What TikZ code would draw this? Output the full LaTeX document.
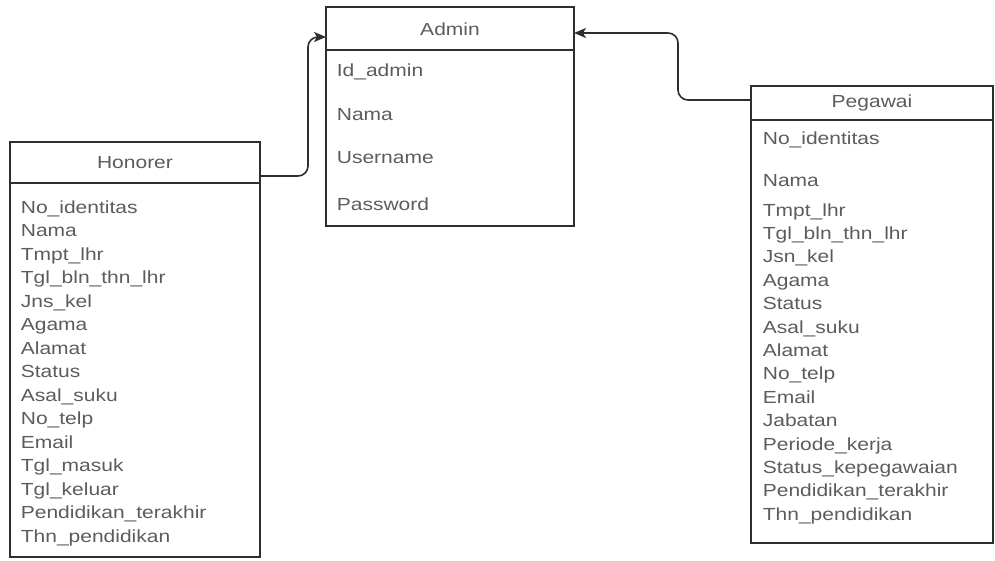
\documentclass[tikz,border=0pt]{standalone}
\usepackage{fontspec}
\setmainfont{Liberation Sans}
\usetikzlibrary{
    arrows.meta,
    calc,
    positioning
}
\definecolor{linegray}{HTML}{2E2E2E}
\definecolor{txtgray}{HTML}{5C5C5C}
\newcommand{\attrfont}{\fontsize{17.5}{20}\selectfont}
\tikzset{
    every picture/.style = {
        > = {Stealth[length = 12pt, width = 10pt, inset = 3pt]},
        line width = 1.4pt
    },
    entity/.style = {
        draw = linegray,
        anchor = north west,
        inner sep = 0pt,
        outer sep = 0pt,
        line width = 1.4pt
    },
    title/.style = {
        text = txtgray,
        font = \attrfont,
        xscale = 1.2,
        inner sep = 0pt
    },
    attr/.style = {
        anchor = west,
        text = txtgray,
        font = \attrfont,
        xscale = 1.2,
        inner sep = 0pt,
        text height = 1.6ex,
        text depth = .4ex
    },
    link/.style = {
        ->,
        draw = linegray,
        line width = 1.6pt,
        rounded corners = 10pt
    }
}

\begin{document}
\begin{tikzpicture}[x = 1pt, y = -1pt]
    \useasboundingbox (0, 0) rectangle (995, 561);

    % entities
    \node[entity, minimum width = 250pt, minimum height = 415pt] (honorer) at (10, 142) {};
    \node[entity, minimum width = 248pt, minimum height = 219pt] (admin) at (326, 7) {};
    \node[entity, minimum width = 242pt, minimum height = 457pt] (pegawai) at (751, 86) {};

    \draw[linegray] (honorer.west |- 0, 183) -- (honorer.east |- 0, 183);
    \draw[linegray] (admin.west |- 0, 50) -- (admin.east |- 0, 50);
    \draw[linegray] (pegawai.west |- 0, 120) -- (pegawai.east |- 0, 120);

    \node[title] (honorerTitle) at (135, 163) {Honorer};
    \node[title] (adminTitle) at (450, 29) {Admin};
    \node[title] (pegawaiTitle) at (872, 103) {Pegawai};

    % attributes
    \foreach \name [count = \i from 0] in {No\_identitas, Nama, Tmpt\_lhr, Tgl\_bln\_thn\_lhr, Jns\_kel, Agama, Alamat, Status, Asal\_suku, No\_telp, Email, Tgl\_masuk, Tgl\_keluar, Pendidikan\_terakhir, Thn\_pendidikan}
        \node[attr] (hon-\i) at (20, {210 + 23.5*\i}) {\name};

    \node[attr] (adm-0) at (336, 73) {Id\_admin};
    \node[attr] (adm-1) at (336, 117) {Nama};
    \node[attr] (adm-2) at (336, 160) {Username};
    \node[attr] (adm-3) at (336, 207) {Password};

    \node[attr] (peg-a) at (762, 141) {No\_identitas};
    \node[attr] (peg-b) at (762, 183) {Nama};
    \foreach \name [count = \i from 0] in {Tmpt\_lhr, Tgl\_bln\_thn\_lhr, Jsn\_kel, Agama, Status, Asal\_suku, Alamat, No\_telp, Email, Jabatan, Periode\_kerja, Status\_kepegawaian, Pendidikan\_terakhir, Thn\_pendidikan}
        \node[attr] (peg-\i) at (762, {213 + 23.4*\i}) {\name};

    % relations
    \draw[link] ([yshift = -34pt]honorer.north east) -| ([xshift = -18pt, yshift = -30pt]admin.north west) -- ([yshift = -30pt]admin.north west);
    \draw[link] ([yshift = -14pt]pegawai.north west) -| ([xshift = 104pt, yshift = -26pt]admin.north east) -- ([yshift = -26pt]admin.north east);
\end{tikzpicture}
\end{document}
